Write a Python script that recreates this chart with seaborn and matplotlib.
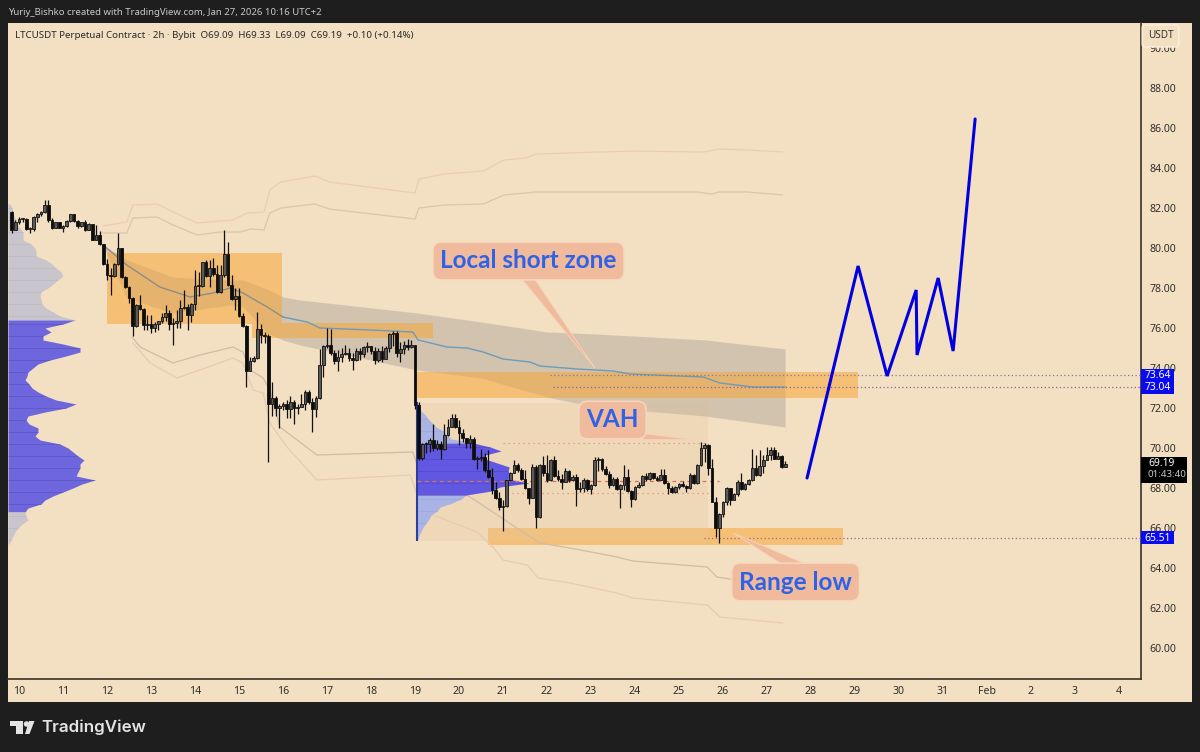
import numpy as np
import pandas as pd
import seaborn as sns
import matplotlib.pyplot as plt
from matplotlib.patches import Rectangle, Polygon, Ellipse

# candles, 2h bars, open = previous close
first_open = 81.8
first_day = 9.8333
closes = [
    80.9, 81.3, 81.45, 81.45, 80.95, 80.95, 81.55, 81.7, 81.8, 82.15,
    81.4, 81.0, 81.3, 81.0, 81.1, 81.35, 81.7, 81.35, 81.1, 81.3,
    80.9, 81.2, 80.4, 80.65, 80.2, 79.2, 78.65, 78.6, 79.2, 80.0,
    78.55, 78.05, 77.5, 76.1, 77.15, 76.95, 76.15, 76.2, 76.0, 76.2,
    76.35, 76.55, 76.75, 76.2, 76.25, 76.35, 77.0, 77.05, 76.65, 77.2,
    78.1, 78.1, 79.3, 78.6, 78.98, 78.7, 77.8, 78.65, 79.7, 78.15,
    77.45, 77.6, 76.6, 76.1, 73.85, 74.35, 74.5, 75.95, 75.65, 75.6,
    72.2, 72.5, 72.0, 72.1, 72.2, 71.95, 72.3, 72.0, 72.05, 72.2,
    72.8, 72.3, 71.95, 72.5, 74.15, 75.1, 75.15, 74.75, 74.35, 74.55,
    74.7, 74.75, 74.5, 74.4, 74.85, 74.7, 75.05, 75.1, 74.85, 74.4,
    74.85, 74.45, 75.0, 75.7, 75.75, 74.75, 74.95, 75.15, 75.05, 75.15,
    72.15, 69.5, 70.2, 70.2, 70.4, 70.0, 70.2, 69.95, 70.65, 71.05,
    71.5, 71.05, 70.75, 70.5, 70.25, 70.45, 69.45, 69.5, 69.55, 68.9,
    68.55, 67.9, 67.5, 67.05, 67.1, 68.4, 68.75, 69.15, 68.9, 68.45,
    68.0, 67.5, 69.05, 66.55, 69.15, 68.75, 68.4, 69.4, 68.6, 68.45,
    68.3, 68.85, 68.4, 68.55, 67.95, 68.0, 68.4, 67.95, 68.15, 69.4,
    69.45, 68.95, 68.72, 68.15, 68.45, 67.95, 68.15, 68.55, 67.85, 67.43,
    68.05, 68.15, 68.6, 68.45, 68.75, 68.5, 68.4, 68.65, 68.25, 67.98,
    67.78, 68.05, 68.2, 68.1, 68.0, 68.65, 68.25, 69.15, 69.98, 70.15,
    69.0, 67.32, 66.0, 66.7, 67.32, 67.98, 67.4, 67.7, 68.32, 67.95,
    68.2, 68.4, 69.0, 68.65, 69.1, 69.4, 69.65, 69.9, 69.47, 69.6,
    69.05, 69.19,
]
highs = [
    81.85, 81.4, 81.55, 81.5, 81.5, 81.05, 81.6, 81.75, 81.85, 82.4,
    82.4, 81.5, 81.32, 81.32, 81.15, 81.4, 81.72, 81.7, 81.4, 81.32,
    81.4, 81.25, 80.95, 81.15, 80.85, 80.2, 79.45, 79.0, 79.25, 80.75,
    80.0, 78.6, 78.1, 77.55, 77.2, 77.65, 77.0, 76.65, 76.65, 76.3,
    76.35, 76.75, 77.15, 76.9, 76.5, 76.9, 77.4, 77.9, 77.2, 77.25,
    78.9, 78.8, 79.3, 79.4, 79.4, 79.5, 79.15, 79.15, 80.9, 80.3,
    78.65, 78.0, 78.0, 76.75, 76.15, 74.55, 74.6, 76.8, 76.2, 75.8,
    75.7, 73.3, 72.6, 72.2, 72.3, 72.4, 72.6, 72.4, 72.2, 72.7,
    72.9, 72.9, 72.5, 72.6, 74.95, 75.15, 76.0, 75.95, 74.9, 74.9,
    75.0, 75.15, 75.0, 74.75, 75.0, 75.0, 75.1, 75.3, 75.1, 75.05,
    75.0, 75.1, 75.1, 75.75, 75.85, 75.85, 75.3, 75.35, 75.45, 75.4,
    75.15, 72.3, 70.25, 70.3, 70.5, 71.2, 70.4, 70.35, 71.2, 71.45,
    71.7, 71.7, 71.4, 70.95, 70.5, 70.65, 70.55, 69.6, 69.95, 69.75,
    69.9, 69.0, 68.3, 67.8, 67.4, 68.4, 68.8, 69.4, 69.25, 69.0,
    68.9, 68.0, 69.2, 69.15, 69.2, 69.6, 69.65, 69.45, 69.6, 68.9,
    68.7, 69.0, 68.9, 68.65, 68.7, 68.3, 68.5, 68.45, 68.2, 69.55,
    69.55, 69.5, 69.1, 68.85, 68.55, 68.55, 68.2, 69.15, 68.95, 67.9,
    68.1, 68.3, 68.65, 68.75, 68.8, 68.75, 68.6, 68.95, 68.95, 68.3,
    68.1, 68.1, 68.25, 68.35, 68.15, 68.75, 68.7, 69.2, 70.32, 70.25,
    70.2, 69.45, 67.55, 66.75, 67.35, 68.05, 68.0, 67.75, 68.4, 68.75,
    68.25, 68.45, 69.95, 69.65, 69.9, 69.65, 70.05, 70.05, 70.03, 69.8,
    69.65, 69.33,
]
lows = [
    80.75, 80.9, 81.2, 81.3, 80.9, 80.75, 80.85, 81.3, 81.6, 81.75,
    81.3, 80.95, 80.98, 80.98, 80.8, 81.05, 81.3, 81.3, 80.98, 81.05,
    80.85, 80.9, 80.38, 80.4, 80.15, 79.15, 78.4, 77.65, 78.55, 79.15,
    78.5, 78.0, 77.25, 75.6, 76.05, 76.9, 75.9, 75.9, 75.75, 75.8,
    75.9, 76.25, 76.35, 75.9, 75.15, 76.0, 76.0, 76.95, 75.9, 76.3,
    76.9, 77.6, 78.05, 78.55, 78.05, 78.6, 77.75, 77.75, 78.55, 78.1,
    77.4, 76.9, 76.55, 76.05, 73.03, 73.85, 74.3, 74.45, 75.25, 75.25,
    69.3, 71.6, 71.6, 71.0, 71.9, 71.5, 71.5, 71.2, 71.7, 72.05,
    71.9, 72.2, 70.8, 71.55, 72.45, 73.55, 75.0, 74.65, 74.2, 73.85,
    74.3, 74.65, 74.35, 73.9, 74.35, 74.4, 74.55, 74.8, 74.7, 74.2,
    74.3, 74.3, 74.6, 74.8, 75.1, 74.55, 74.3, 74.7, 74.9, 75.0,
    71.95, 69.4, 69.4, 69.75, 69.8, 69.85, 69.9, 69.45, 69.9, 70.6,
    71.05, 71.0, 70.15, 70.3, 70.0, 70.0, 69.4, 68.95, 69.35, 68.8,
    68.5, 67.7, 67.45, 66.9, 65.85, 67.05, 68.35, 68.75, 68.8, 68.4,
    67.95, 67.2, 67.5, 66.0, 66.5, 68.6, 68.3, 68.35, 68.55, 68.35,
    67.95, 68.3, 68.3, 68.35, 67.1, 67.8, 67.8, 67.85, 67.7, 68.1,
    68.85, 68.85, 68.65, 68.0, 68.1, 67.9, 66.98, 67.9, 67.8, 67.07,
    67.4, 68.0, 68.1, 68.35, 68.4, 68.45, 68.35, 68.4, 68.2, 67.7,
    67.75, 67.75, 67.95, 68.05, 67.8, 67.95, 68.2, 68.2, 69.1, 69.3,
    68.65, 67.3, 65.55, 65.25, 66.55, 67.15, 67.15, 67.4, 67.6, 67.9,
    67.9, 68.15, 68.35, 68.6, 68.6, 68.75, 69.4, 69.42, 69.45, 69.45,
    69.0, 69.05,
]

# anchored vwap and its bands, (day, price)
vwap_days = [11.91, 12.45, 13.2, 13.89, 14.41, 14.8, 15.09, 15.64, 16.0]
vwap_prices = [80.15, 79.15, 78.05, 77.55, 77.75, 78.0, 77.75, 77.05, 76.55]
vwap2_days = [16.0, 16.55, 16.84, 17.98, 18.95, 19.07, 19.73, 20.18, 20.55, 21.0, 21.61,
              21.84, 22.68, 23.5, 23.89, 25.55, 25.93, 26.68, 27.41]
vwap2_prices = [76.55, 76.3, 76.0, 75.9, 75.8, 75.4, 75.05, 75.0, 74.8, 74.45, 74.3,
                74.1, 73.95, 73.85, 73.7, 73.55, 73.25, 73.05, 73.05]
band_days = [11.91, 12.45, 13.5, 14.8, 15.09, 15.64, 16.0, 16.39, 19.05, 20.5, 22.0, 23.1, 25.6, 27.41]
band_top = [80.15, 79.4, 78.55, 78.4, 78.4, 77.95, 77.55, 77.4, 76.75, 76.3, 75.8, 75.7, 75.4, 74.95]
band_bottom = [80.15, 77.5, 76.75, 77.15, 77.05, 75.75, 75.4, 75.15, 73.9, 73.5, 72.55, 72.05, 71.6, 71.05]
upper_outer_days = [11.91, 12.45, 12.59, 13.14, 13.5, 14.05, 14.86, 15.18, 15.57, 15.7, 15.95, 16.73, 17.05,
                    19.0, 19.09, 19.66, 20.55, 21.02, 21.52, 21.75, 23.95, 25.57, 25.91, 26.55, 27.36]
upper_outer = [81.1, 81.3, 82.15, 82.2, 81.8, 81.25, 81.4, 81.75, 81.8, 82.9, 83.3, 83.6, 83.3,
               82.75, 83.45, 83.7, 83.85, 84.4, 84.5, 84.7, 84.85, 84.8, 84.95, 84.9, 84.8]
upper_inner_days = [11.91, 12.45, 12.59, 13.14, 13.5, 14.05, 14.57, 15.02, 15.27, 15.57, 15.7, 15.95, 16.73, 17.05,
                    19.0, 19.09, 19.66, 20.55, 21.02, 21.75, 25.41, 25.73, 25.91, 26.55, 27.36]
upper_inner = [80.75, 80.75, 81.5, 81.55, 81.15, 80.65, 80.8, 80.8, 80.95, 80.9, 81.75, 82.0, 82.2, 81.95,
               81.45, 82.0, 82.15, 82.2, 82.65, 82.8, 82.8, 82.7, 82.8, 82.8, 82.65]
lower_inner_days = [12.57, 12.75, 13.5, 14.11, 14.86, 15.09, 15.25, 15.55, 15.7, 15.93, 16.77, 18.95, 19.09, 19.8,
                    20.25, 20.7, 21.45, 21.84, 22.52, 23.59, 23.95, 25.64, 25.86, 26.45, 27.41]
lower_inner = [75.55, 75.05, 74.25, 74.65, 75.05, 74.8, 73.9, 73.5, 72.9, 71.05, 69.65, 69.8, 68.9, 68.05,
               67.55, 66.9, 65.8, 65.25, 65.0, 64.55, 64.35, 64.05, 63.55, 63.35, 63.3]
lower_outer_days = [12.59, 12.98, 13.59, 14.11, 14.86, 15.09, 15.32, 15.55, 15.7, 16.09, 16.77, 18.89, 19.09, 19.41,
                    20.41, 20.77, 21.0, 21.55, 21.8, 22.52, 23.59, 23.95, 25.64, 25.93, 27.36]
lower_outer = [75.25, 74.25, 73.5, 73.9, 74.5, 74.25, 72.9, 72.75, 71.25, 70.05, 68.4, 68.65, 67.4, 66.65,
               65.8, 65.05, 64.4, 64.15, 63.5, 63.25, 62.75, 62.5, 62.15, 61.55, 61.25]

# the drawn forecast
path_days = [27.91, 29.07, 29.73, 30.39, 30.41, 30.89, 31.23, 31.73]
path_prices = [68.5, 79.1, 73.6, 77.9, 74.65, 78.5, 74.85, 86.45]

# zones: day start, day end, price low, price high
zones = [
    (12.0, 15.98, 76.2, 79.75),
    (15.3, 19.41, 75.5, 76.25),
    (19.0, 29.07, 72.5, 73.8),
    (20.66, 28.73, 65.15, 66.0),
]

# volume profiles, row height 0.2, widths in pixels of chart
left_top_price = 82.2
left_grey_top = [2, 4, 5, 6, 8, 9, 12, 15, 15, 15, 23, 27, 28, 28, 38, 44, 48, 53, 55, 50, 45, 40, 33, 32, 33, 34, 38, 45, 52]
left_blue = [67, 55, 37, 43, 35, 35, 55, 72, 72, 58, 42, 30, 25, 20, 19, 17, 21, 24, 30, 38, 48, 68, 58, 37, 20, 18, 21,
             30, 30, 27, 32, 52, 60, 65, 70, 76, 72, 72, 70, 68, 87, 74, 65, 55, 45, 37, 33, 20]
left_grey_bottom = [17, 18, 20, 14, 10, 7, 5, 3, 1]
right_top_price = 72.25
right_light_top = [1, 2, 4, 8, 11, 15, 19, 26, 30, 34]
right_blue = [56, 73, 84, 68, 68, 80, 92, 91, 92, 91, 111, 83, 74]
right_light_bottom = [49, 44, 35, 23, 20, 14, 12, 9, 6, 4, 2, 1]

price_ticks = list(range(60, 92, 2))
date_ticks = list(range(10, 36))
date_labels = [str(d) for d in range(10, 32)] + ['Feb', '2', '3', '4']

BG = '#f3dfc1'
DARK = '#1e1e1e'
DAY_LEFT, DAY_RIGHT = 9.75, 35.5
PRICE_LOW, PRICE_HIGH = 58.45, 91.25
PX_DAY = 44.0

sns.set_theme(style='white')
plt.rcParams['font.family'] = ['Noto Sans', 'DejaVu Sans']

fig = plt.figure(figsize=(12, 7.52), dpi=100, facecolor=DARK)
fig.add_artist(Rectangle((8 / 1200, 1 - 702 / 752), 1184 / 1200, 679 / 752, transform=fig.transFigure,
                         facecolor=BG, edgecolor='none', zorder=-5))
ax = fig.add_axes([8 / 1200, 1 - 679 / 752, 1133 / 1200, 656 / 752])
ax.set_facecolor(BG)
ax.set_xlim(DAY_LEFT, DAY_RIGHT)
ax.set_ylim(PRICE_LOW, PRICE_HIGH)

# vwap band goes under the zones
ax.fill_between(band_days, band_bottom, band_top, color='#8f9bb0', alpha=0.27, linewidth=0, zorder=0.5)

# zones and session box
for d0, d1, p0, p1 in zones:
    ax.add_patch(Rectangle((d0, p0), d1 - d0, p1 - p0, facecolor='#f7b55a', alpha=0.72, edgecolor='none', zorder=1))
ax.add_patch(Rectangle((19.05, 65.35), 6.61, 6.9, facecolor='#e6c8a4', alpha=0.28, edgecolor='none', zorder=1))
# band still shows through the zones
ax.fill_between(band_days, band_bottom, band_top, color='#a8763a', alpha=0.1, linewidth=0, zorder=1.2)

for xs, ys, col in [(upper_outer_days, upper_outer, '#eccdb4'), (upper_inner_days, upper_inner, '#dcc5a8'),
                    (lower_inner_days, lower_inner, '#d2bca2'), (lower_outer_days, lower_outer, '#e8cbb0')]:
    sns.lineplot(x=xs, y=ys, ax=ax, color=col, linewidth=0.9, sort=False, estimator=None, legend=False, zorder=2)
sns.lineplot(x=vwap_days, y=vwap_prices, ax=ax, color='#8d8d86', linewidth=1.0, sort=False, estimator=None, legend=False, zorder=2)
sns.lineplot(x=vwap2_days, y=vwap2_prices, ax=ax, color='#6b9cbb', linewidth=1.0, sort=False, estimator=None, legend=False, zorder=2)


def draw_profile(base, top_price, sections):
    start = 0
    flat = [w for rows, _, _ in sections for w in rows]
    ys_all = top_price - 0.2 * np.arange(len(flat))
    widths_all = np.array(flat) / PX_DAY
    for rows, color, line_color in sections:
        stop = start + len(rows)
        # one row extra so that neighbouring parts meet
        ys = ys_all[start:stop + 1]
        widths = widths_all[start:stop + 1]
        ax.fill_betweenx(ys, base, base + widths, color=color, linewidth=0, zorder=2.2)
        ax.hlines(ys[1::3], base, base + widths[1::3], color=line_color, alpha=0.6, linewidth=0.5, zorder=2.3)
        start = stop


draw_profile(DAY_LEFT, left_top_price, [(left_grey_top, '#c9c5cc', '#b5b1bc'), (left_blue, '#6e66dc', '#4d47b8'),
                                        (left_grey_bottom, '#c9c5cc', '#b5b1bc')])
draw_profile(19.05, right_top_price, [(right_light_top, '#aab4e4', '#96a0d8'), (right_blue, '#6257e0', '#4540b8'),
                                      (right_light_bottom, '#aab4e4', '#96a0d8')])
ax.vlines(19.05, 65.35, 72.3, color='#2a3f9e', linewidth=1.5, zorder=2.4)

# value area lines of the session
ax.hlines(70.25, 21.0, 25.66, color='#e0907a', linewidth=0.9, linestyles=(0, (1, 3)), zorder=2.5)
ax.hlines(68.35, 19.05, 25.9, color='#d9705e', linewidth=0.9, linestyles=(0, (3, 3)), zorder=2.5)
ax.hlines(67.75, 21.2, 25.66, color='#e0907a', linewidth=0.9, linestyles=(0, (1, 3)), zorder=2.5)

# candles
df = pd.DataFrame({'close': closes, 'high': highs, 'low': lows})
df['open'] = df['close'].shift(1).fillna(first_open)
df['day'] = first_day + df.index / 12
df['up'] = df['close'] >= df['open']
bottoms = df[['open', 'close']].min(axis=1)
heights = (df['close'] - df['open']).abs().clip(lower=0.06)
ax.vlines(df['day'], df['low'], df['high'], color='#111111', linewidth=0.9, zorder=3)
ax.bar(df['day'], heights, bottom=bottoms, width=0.066, color=np.where(df['up'], '#5c5a58', '#0c0c0c'),
       edgecolor='#111111', linewidth=0.6, zorder=3.1)

# forecast
sns.lineplot(x=path_days, y=path_prices, ax=ax, color='#0000e0', linewidth=2.2, sort=False, estimator=None,
             legend=False, zorder=4, solid_joinstyle='miter')

# dotted price lines
ax.hlines(73.64, 22.07, DAY_RIGHT, color='#7d7aa6', linewidth=0.9, linestyles=(0, (1, 2)), zorder=2.6)
ax.hlines(73.04, 22.14, DAY_RIGHT, color='#8b5f9b', linewidth=0.9, linestyles=(0, (1, 2)), zorder=2.6)
ax.hlines(65.51, 25.57, DAY_RIGHT, color='#a0678f', linewidth=0.9, linestyles=(0, (1, 2)), zorder=2.6)

# callouts
TAG = '#f0ba9c'
TEXT_BLUE = '#2f62e6'
for tail in [[(21.45, 78.4), (21.73, 78.4), (23.09, 74.0)],
             [(24.16, 70.75), (24.16, 70.45), (25.32, 70.45)],
             [(27.3, 64.25), (27.82, 64.25), (26.23, 65.75)]]:
    ax.add_patch(Polygon(tail, closed=True, facecolor=TAG, edgecolor='#f6d3b8', linewidth=0.6, zorder=4.5))
for label, d, p in [('Local short zone', 21.58, 79.35), ('VAH', 23.49, 71.4), ('Range low', 27.65, 63.3)]:
    ax.text(d, p, label, color=TEXT_BLUE, fontsize=17.5, fontfamily='Lato', fontweight='bold', ha='center', va='center',
            zorder=5, bbox=dict(boxstyle='round,pad=0.3,rounding_size=0.35', facecolor=TAG, edgecolor='#f8d8c0', linewidth=1))

# axes
ax.yaxis.tick_right()
ax.set_yticks(price_ticks)
ax.set_yticklabels([f'{v:.2f}' for v in price_ticks], fontsize=7.6, color='#2e2e2e')
ax.set_xticks(date_ticks)
ax.set_xticklabels(date_labels, fontsize=7.6, color='#2e2e2e')
ax.tick_params(axis='both', length=0)
ax.tick_params(axis='y', pad=6)
ax.tick_params(axis='x', pad=5)
sns.despine(ax=ax, top=True, left=True, right=False, bottom=False)
for side in ['right', 'bottom']:
    ax.spines[side].set_color('#3a3226')
    ax.spines[side].set_linewidth(1.2)
ax.set_xlabel('')
ax.set_ylabel('')

# price tags on the scale
scale = ax.get_yaxis_transform()
for value in [73.64, 73.04, 65.51]:
    ax.add_patch(Rectangle((1.0, value - 0.33), 33 / 1133, 0.66, transform=scale, clip_on=False, facecolor='#0a0aee',
                           edgecolor='none', zorder=8))
    ax.text(1.0 + 16.5 / 1133, value - 0.02, f'{value:.2f}', transform=scale, color='white', fontsize=7.4, fontweight='bold',
            ha='center', va='center', zorder=9)
ax.add_patch(Rectangle((1.0, 68.25), 46 / 1133, 1.3, transform=scale, clip_on=False, facecolor='black', edgecolor='none', zorder=8))
ax.text(1.0 + 7 / 1133, 69.25, '69.19', transform=scale, color='white', fontsize=7.4, fontweight='bold', ha='left', va='center', zorder=9)
ax.text(1.0 + 7 / 1133, 68.65, '01:43:40', transform=scale, color='#c4c4c4', fontsize=7, ha='left', va='center', zorder=9)

# header and footer text
fig.text(8 / 1200, 1 - 12.5 / 752, 'Yuriy_Bishko created with TradingView.com, Jan 27, 2026 10:16 UTC+2', color='#c9c9c9',
         fontsize=6.9, va='center')
fig.text(15 / 1200, 1 - 35 / 752, 'LTCUSDT Perpetual Contract · 2h · Bybit  O69.09  H69.33  L69.09  C69.19  +0.10 (+0.14%)',
         color='#2a2a2a', fontsize=7.0, va='center')
fig.text(1160.5 / 1200, 1 - 36 / 752, 'USDT', color='#333333', fontsize=7.2, ha='center', va='center', zorder=6,
         bbox=dict(boxstyle='round,pad=0.55,rounding_size=0.3', facecolor=BG, edgecolor='#fbf0de', linewidth=1))
fig.text(41 / 1200, 1 - 727 / 752, 'TradingView', color='#e4e4e4', fontsize=12.2, fontfamily='Inter', fontweight='semibold',
         va='center')

# logo
logo = '#e4e4e4'


def to_fig(pts):
    return [(x / 1200, 1 - y / 752) for x, y in pts]


fig.add_artist(Polygon(to_fig([(10, 721), (23, 721), (23, 734), (16, 734), (16, 726), (10, 726)]), closed=True,
                       transform=fig.transFigure, facecolor=logo, edgecolor='none'))
fig.add_artist(Polygon(to_fig([(29, 721), (34.5, 721), (29.5, 734), (25, 734)]), closed=True,
                       transform=fig.transFigure, facecolor=logo, edgecolor='none'))
fig.add_artist(Ellipse((26.5 / 1200, 1 - 724 / 752), 5.5 / 1200, 5.5 / 752, transform=fig.transFigure,
                       facecolor=logo, edgecolor='none'))

fig.savefig('out.png', dpi=100, facecolor=fig.get_facecolor())
